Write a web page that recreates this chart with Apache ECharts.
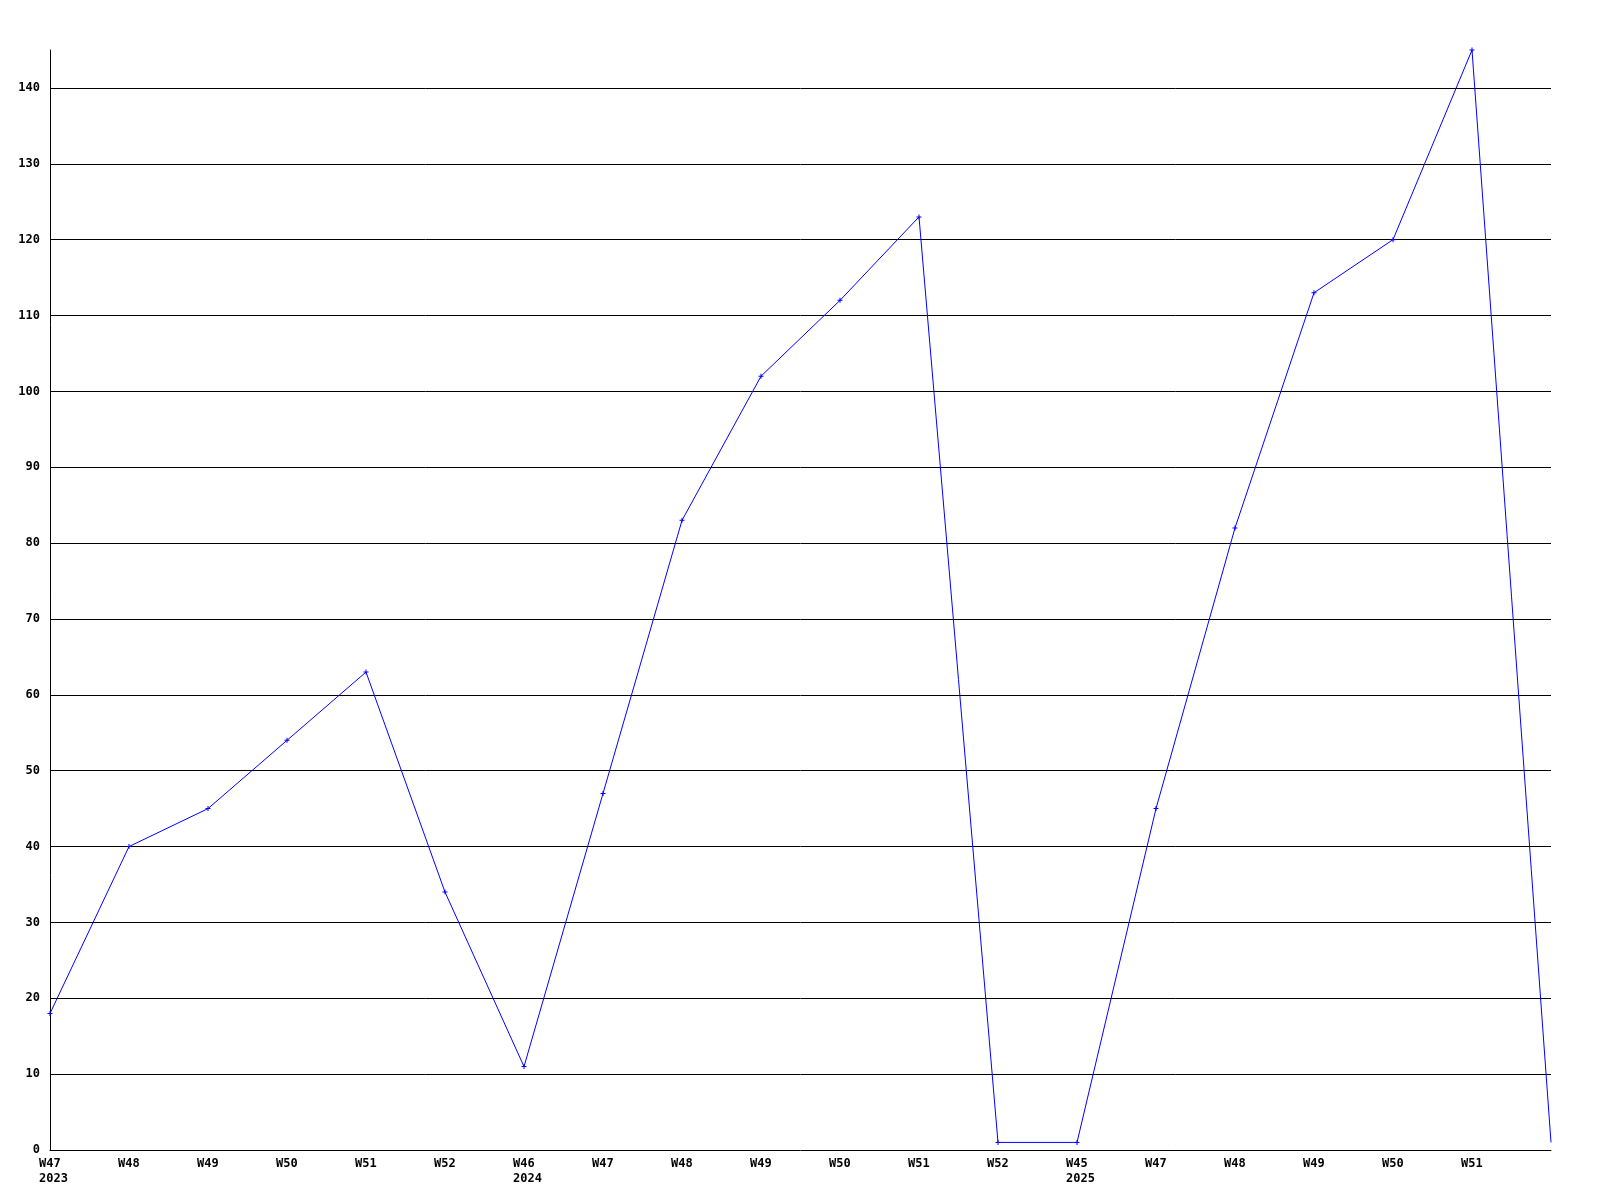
<!DOCTYPE html>
<html>
<head>
<meta charset="utf-8">
<script src="https://cdn.jsdelivr.net/npm/echarts@6/dist/echarts.min.js"></script>
<style>html,body{margin:0;padding:0;background:#fff;}#c{width:1600px;height:1200px;}</style>
</head>
<body>
<div id="c"></div>
<script>
const categories = ['W47\n2023','W48','W49','W50','W51','W52','W46\n2024','W47','W48','W49','W50','W51','W52','W45\n2025','W47','W48','W49','W50','W51',''];
const values = [18,40,45,54,63,34,11,47,83,102,112,123,1,1,45,82,113,120,145,1];
const yMin = 0, yMax = 145, yStep = 10;

const font = '"DejaVu Sans Mono", "Liberation Mono", monospace';
const marker = 'path://M2,0H3V2H5V3H3V5H2V3H0V2H2Z';
const seriesData = values.map((v, i) => i === values.length - 1 ? {value: v, symbol: 'none'} : v);

const chart = echarts.init(document.getElementById('c'));
chart.setOption({
  animation: false,
  backgroundColor: '#ffffff',
  grid: {left: 50, right: 49, top: 50, bottom: 50, containLabel: false},
  xAxis: {
    type: 'category',
    data: categories,
    boundaryGap: false,
    axisLine: {show: true, lineStyle: {color: '#000', width: 1}},
    axisTick: {show: false},
    axisLabel: {
      interval: 0, color: '#000', fontFamily: font, fontWeight: 'bold', fontSize: 12, lineHeight: 15, margin: 6, align: 'center',
      formatter: function (v) { return v ? v.split('\n').map(s => '{a|' + s + '}').join('\n') : ''; },
      rich: {a: {width: 22, align: 'left', fontFamily: font, fontWeight: 'bold', fontSize: 12, lineHeight: 15, color: '#000'}}
    },
    splitLine: {show: false}
  },
  yAxis: {
    type: 'value',
    min: yMin, max: yMax, interval: yStep,
    axisLine: {show: true, lineStyle: {color: '#000', width: 1}},
    axisTick: {show: false},
    axisLabel: {color: '#000', fontFamily: font, fontWeight: 'bold', fontSize: 12, margin: 10, showMaxLabel: false},
    splitLine: {show: true, showMinLine: false, showMaxLine: false, lineStyle: {color: '#000', width: 1}}
  },
  series: [{
    type: 'line',
    data: seriesData,
    symbol: marker,
    symbolSize: 5,
    showAllSymbol: true,
    lineStyle: {color: '#0000ff', width: 1},
    itemStyle: {color: '#0000ff'},
    clip: false
  }]
});
</script>
</body>
</html>
